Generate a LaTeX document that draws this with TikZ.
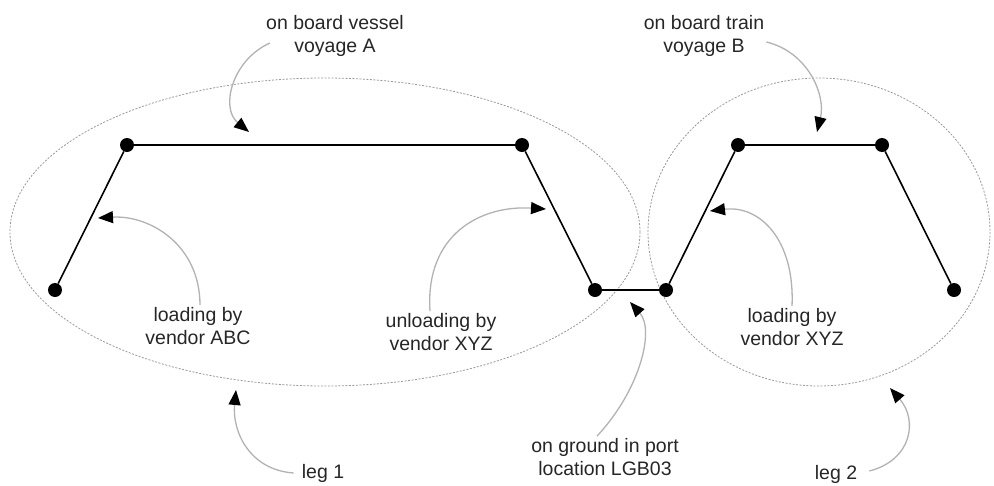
\documentclass[tikz,border=0pt]{standalone}
\usepackage{fontspec}
\setmainfont{Liberation Sans}
\usetikzlibrary{arrows.meta}
\begin{document}
\begin{tikzpicture}[x=1pt,y=-1pt,
  stop/.style={circle,fill=black,inner sep=0pt,minimum size=14pt},
  track/.style={line width=1.6pt},
  zone/.style={draw=gray!80,line width=0.8pt,dash pattern=on 2pt off 1.5pt},
  note/.style={align=center,inner sep=2pt,text=black!85,font=\fontsize{19.5}{23}\selectfont},
  hint/.style={draw=gray!60,line width=1.3pt,-{Triangle[length=15pt,width=12pt,black]}}]
\useasboundingbox (0,0) rectangle (994,485);
% legs
\draw[zone] (325,232) ellipse [x radius=315,y radius=154];
\draw[zone] (819,232) ellipse [x radius=171,y radius=154];
% stops of the route
\node[stop] (s1) at (55,290) {};\node[stop] (s2) at (127,145) {};
\node[stop] (s3) at (522,145) {};\node[stop] (s4) at (595,290) {};
\node[stop] (s5) at (666,290) {};\node[stop] (s6) at (738,145) {};
\node[stop] (s7) at (882,145) {};\node[stop] (s8) at (954,290) {};
\draw[track] (s1)--(s2)--(s3)--(s4)--(s5)--(s6)--(s7)--(s8);
% labels
\node[note] (vessel) at (335,36) {on board vessel\\voyage A};
\node[note] (train) at (704,36) {on board train\\voyage B};
\node[note] (loadA) at (198,326) {loading by\\vendor ABC};
\node[note] (unload) at (441,332) {unloading by\\vendor XYZ};
\node[note] (loadB) at (792,327) {loading by\\vendor XYZ};
\node[note] (ground) at (605,457) {on ground in port\\location LGB03};
\node[note] (leg1) at (323,473) {leg 1};
\node[note] (leg2) at (836,474) {leg 2};
% pointers
\coordinate (tvessel) at (249,132);\coordinate (ttrain) at (817,132);
\coordinate (tloadA) at (98,218);\coordinate (tunload) at (546,209);
\coordinate (tloadB) at (710,211);\coordinate (tground) at (630,302);
\coordinate (tleg1) at (236,390);\coordinate (tleg2) at (890,388);
\draw[hint] ([xshift=6pt,yshift=-7pt]vessel.west) .. controls (232,60) and (220,108) .. (tvessel);
\draw[hint] ([yshift=-6pt]train.east) .. controls (808,52) and (826,95) .. (ttrain);
\draw[hint] ([xshift=2pt]loadA.north) .. controls (200,245) and (150,215) .. (tloadA);
\draw[hint] ([xshift=-11pt]unload.north) .. controls (425,235) and (480,205) .. (tunload);
\draw[hint] (loadB.north) .. controls (795,240) and (760,205) .. (tloadB);
\draw[hint] ([xshift=-8pt]ground.north) .. controls (640,390) and (655,330) .. (tground);
\draw[hint] ([xshift=-6pt]leg1.west) .. controls (250,470) and (232,432) .. (tleg1);
\draw[hint] ([xshift=10pt,yshift=3pt]leg2.east) .. controls (912,460) and (918,420) .. (tleg2);
\end{tikzpicture}
\end{document}
